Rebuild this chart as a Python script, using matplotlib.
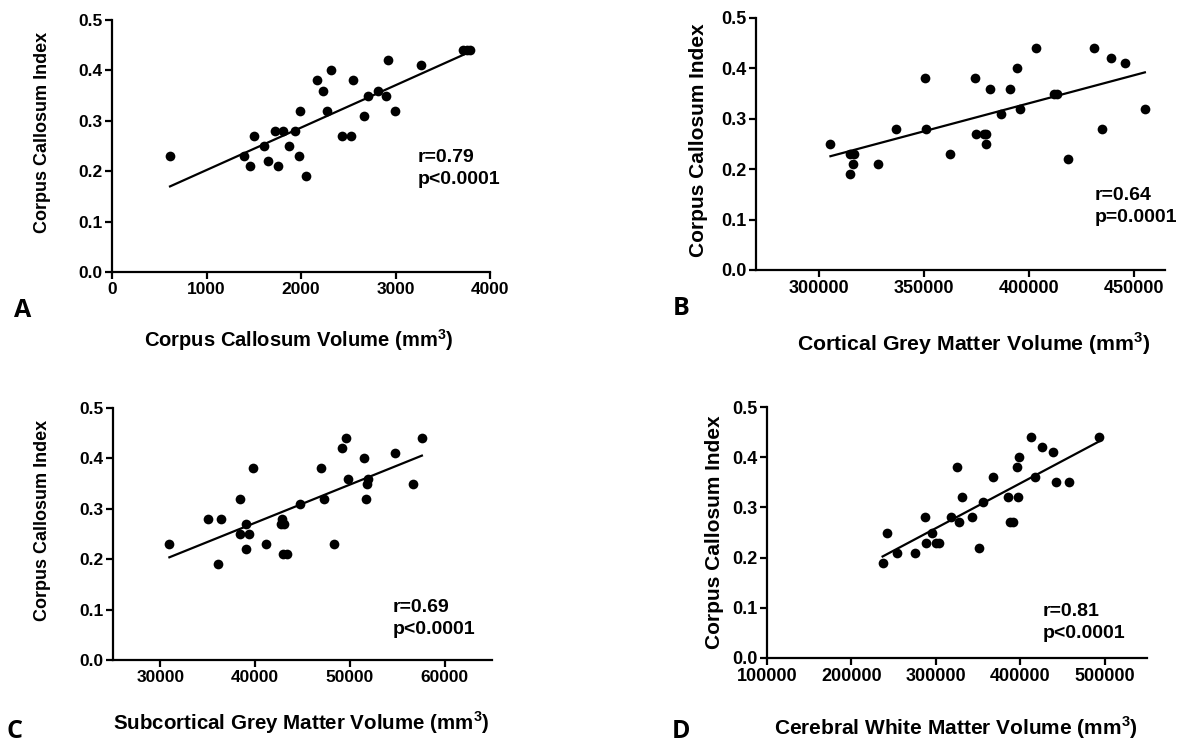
import numpy as np
import matplotlib.pyplot as plt

plt.rcParams['font.family'] = ['Liberation Sans', 'DejaVu Sans']
plt.rcParams['font.weight'] = 'bold'
plt.rcParams['mathtext.fontset'] = 'custom'
plt.rcParams['mathtext.bf'] = 'Liberation Sans:bold'
plt.rcParams['mathtext.rm'] = 'Liberation Sans:bold'

# Corpus Callosum Index (y) shared label
ylab = "Corpus Callosum Index"

# panel A: corpus callosum volume
a_x = [614, 1393, 1457, 1504, 1611, 1650, 1725, 1761, 1807, 1868, 1939, 1975,
       1993, 2054, 2171, 2229, 2279, 2314, 2439, 2529, 2554, 2668, 2707, 2818,
       2896, 2925, 2993, 3268, 3714, 3757, 3793]
a_y = [0.23, 0.23, 0.21, 0.27, 0.25, 0.22, 0.28, 0.21, 0.28, 0.25, 0.28, 0.23,
       0.32, 0.19, 0.38, 0.36, 0.32, 0.40, 0.27, 0.27, 0.38, 0.31, 0.35, 0.36,
       0.35, 0.42, 0.32, 0.41, 0.44, 0.44, 0.44]

# panel B: cortical grey matter volume
b_x = [305500, 314700, 314700, 316100, 316900, 328100, 336600, 350500, 351100,
       362500, 374500, 374900, 378600, 379700, 379800, 381400, 386900, 390900,
       394300, 396100, 403600, 412000, 413600, 418900, 431200, 435000, 439300,
       445700, 455400]
b_y = [0.25, 0.23, 0.19, 0.21, 0.23, 0.21, 0.28, 0.38, 0.28, 0.23, 0.38, 0.27,
       0.27, 0.25, 0.27, 0.36, 0.31, 0.36, 0.40, 0.32, 0.44, 0.35, 0.35, 0.22,
       0.44, 0.28, 0.42, 0.41, 0.32]

# panel C: subcortical grey matter volume
c_x = [30950, 35000, 36100, 36450, 38400, 38400, 39000, 39000, 39400, 39800,
       41150, 42800, 42700, 43000, 42950, 43400, 44750, 46900, 47250, 48350,
       49150, 49550, 49800, 51450, 51700, 51800, 51950, 54800, 56700, 57600]
c_y = [0.23, 0.28, 0.19, 0.28, 0.32, 0.25, 0.27, 0.22, 0.25, 0.38,
       0.23, 0.28, 0.27, 0.27, 0.21, 0.21, 0.31, 0.38, 0.32, 0.23,
       0.42, 0.44, 0.36, 0.40, 0.32, 0.35, 0.36, 0.41, 0.35, 0.44]

# panel D: cerebral white matter volume
d_x = [236900, 242100, 254000, 275800, 286900, 288100, 295200, 299600, 304000,
       317500, 325400, 327800, 331400, 342500, 351200, 355200, 367500, 385300,
       387700, 391700, 395600, 397600, 398400, 413100, 417100, 426200, 438500,
       442500, 457100, 493700]
d_y = [0.19, 0.25, 0.21, 0.21, 0.28, 0.23, 0.25, 0.23, 0.23, 0.28, 0.38, 0.27,
       0.32, 0.28, 0.22, 0.31, 0.36, 0.32, 0.27, 0.27, 0.38, 0.32, 0.40, 0.44,
       0.36, 0.42, 0.41, 0.35, 0.35, 0.44]

W, H = 1193, 746


def fx(x):
    return x / W


def fy(y):
    return 1 - y / H


panels = [
    dict(x=a_x, y=a_y, box=(112, 490, 20, 272), xlim=(0, 4000),
         xticks=[0, 1000, 2000, 3000, 4000],
         xlabel=r"Corpus Callosum Volume (mm$^{\bf 3}$)", xl=(299, 340),
         yl=(43, 132), letter="A", lp=(23, 310), r="r=0.79", p="p<0.0001",
         tp=(418, 158, 180), fs=12.5, lfs=14.5, yfs=13),
    dict(x=b_x, y=b_y, box=(756, 1165, 18, 270), xlim=(270000, 465000),
         xticks=[300000, 350000, 400000, 450000],
         xlabel=r"Cortical Grey Matter Volume (mm$^{\bf 3}$)", xl=(974, 344),
         yl=(698, 140), letter="B", lp=(681, 309), r="r=0.64", p="p=0.0001",
         tp=(1095, 195, 217), fs=13, lfs=15.3, yfs=15),
    dict(x=c_x, y=c_y, box=(113, 492, 408, 660), xlim=(25000, 65000),
         xticks=[30000, 40000, 50000, 60000],
         xlabel=r"Subcortical Grey Matter Volume (mm$^{\bf 3}$)", xl=(301, 723),
         yl=(43, 520), letter="C", lp=(15, 731), r="r=0.69", p="p<0.0001",
         tp=(393, 607, 630), fs=12.5, lfs=14.8, yfs=13),
    dict(x=d_x, y=d_y, box=(767, 1147, 407, 658), xlim=(100000, 550000),
         xticks=[100000, 200000, 300000, 400000, 500000],
         xlabel=r"Cerebral White Matter Volume (mm$^{\bf 3}$)", xl=(956, 728),
         yl=(715, 532), letter="D", lp=(681, 731), r="r=0.81", p="p<0.0001",
         tp=(1043, 612, 633), fs=13, lfs=15, yfs=15),
]

fig = plt.figure(figsize=(W / 100, H / 100), dpi=100)

for pn in panels:
    l, r, t, b = pn["box"]
    ax = fig.add_axes([fx(l), fy(b), fx(r) - fx(l), fy(t) - fy(b)])
    x = np.array(pn["x"], dtype=float)
    y = np.array(pn["y"], dtype=float)
    ax.plot(x, y, "o", color="black", ms=7, mew=0)
    k, c0 = np.polyfit(x, y, 1)
    xs = np.array([x.min(), x.max()])
    ax.plot(xs, k * xs + c0, color="black", lw=1.6)
    ax.set_xlim(*pn["xlim"])
    ax.set_ylim(0, 0.5)
    ax.set_xticks(pn["xticks"])
    ax.set_yticks([0, 0.1, 0.2, 0.3, 0.4, 0.5])
    ax.set_yticklabels(["0.0", "0.1", "0.2", "0.3", "0.4", "0.5"])
    for s in ["top", "right"]:
        ax.spines[s].set_visible(False)
    for s in ["left", "bottom"]:
        ax.spines[s].set_linewidth(1.6)
    ax.tick_params(direction="out", length=5, width=1.6, labelsize=pn["fs"],
                   pad=2)
    ax.patch.set_alpha(0)

    fig.text(fx(pn["xl"][0]), fy(pn["xl"][1]), pn["xlabel"], ha="center",
             va="center", fontsize=pn["lfs"], fontweight="bold")
    fig.text(fx(pn["yl"][0]), fy(pn["yl"][1]), ylab, ha="center",
             va="center", rotation=90, fontsize=pn["yfs"],
             fontweight="bold")
    fig.text(fx(pn["lp"][0]), fy(pn["lp"][1]), pn["letter"], ha="center",
             va="center", fontsize=18, fontweight="bold", family="Open Sans")
    tx, ry, py = pn["tp"]
    fig.text(fx(tx), fy(ry), pn["r"], ha="left", va="center", fontsize=14,
             fontweight="bold")
    fig.text(fx(tx), fy(py), pn["p"], ha="left", va="center", fontsize=14,
             fontweight="bold")

fig.savefig("out.png", dpi=100)
